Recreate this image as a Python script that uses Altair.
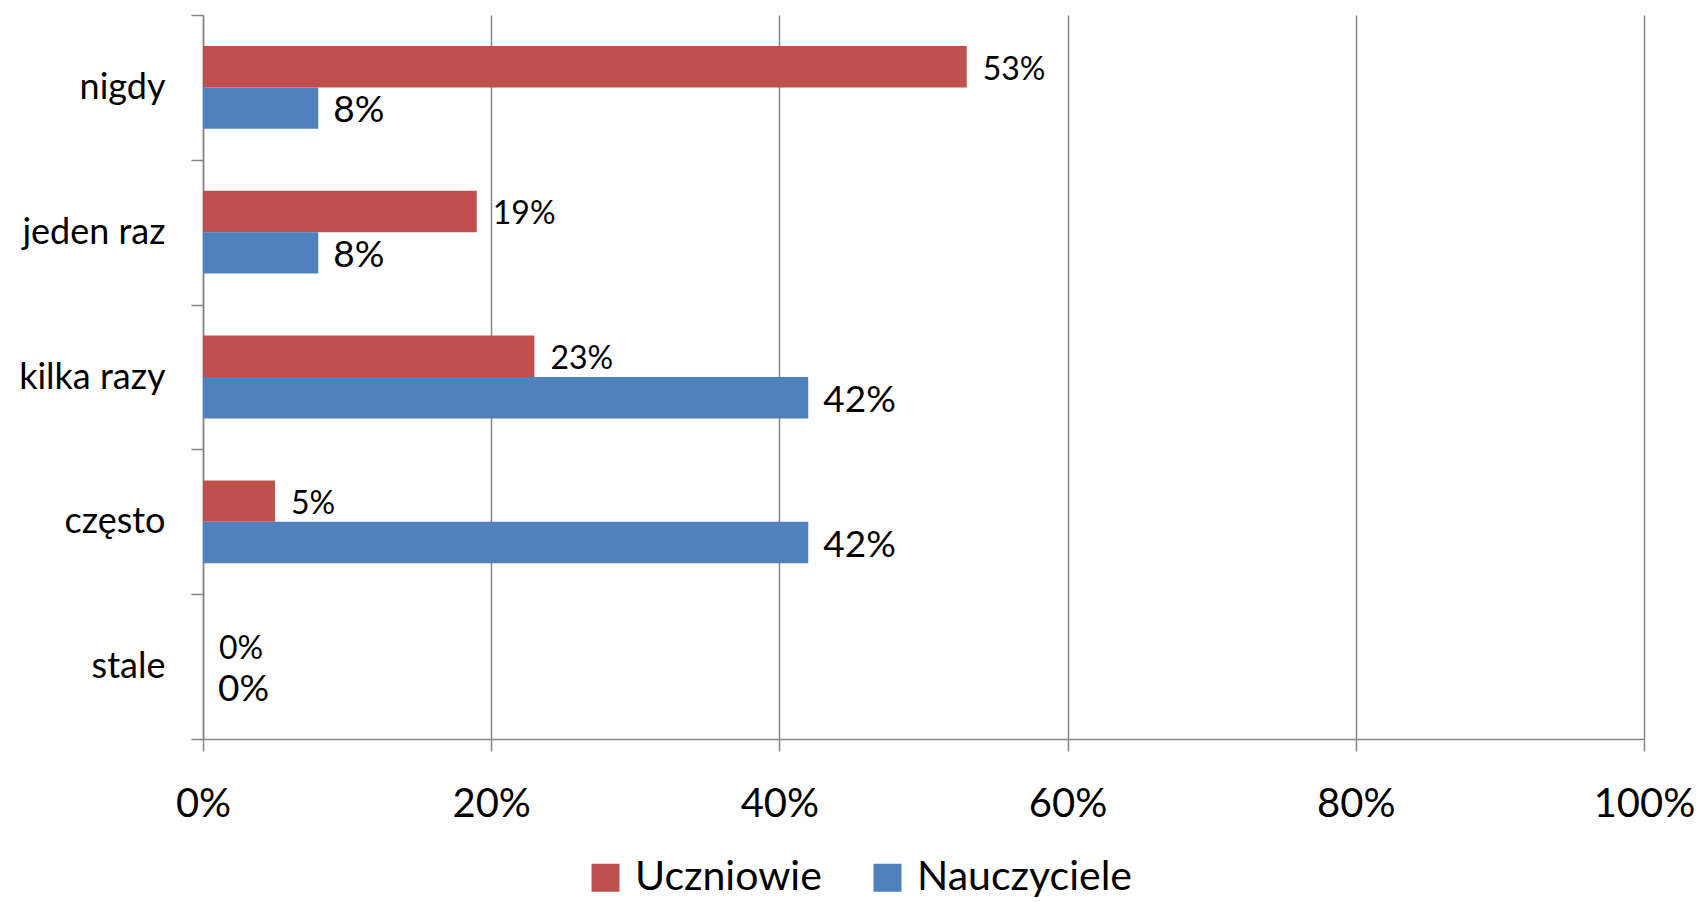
import altair as alt
import pandas as pd

categories = ["nigdy", "jeden raz", "kilka razy", "często", "stale"]
series_names = ["Uczniowie", "Nauczyciele"]
uczniowie = [53, 19, 23, 5, 0]
nauczyciele = [8, 8, 42, 42, 0]
colors = ["#C0504D", "#4F81BD"]
x_ticks = [0, 0.2, 0.4, 0.6, 0.8, 1.0]

rows = []
for c, u, n in zip(categories, uczniowie, nauczyciele):
    rows.append({"cat": c, "series": "Uczniowie", "val": u / 100, "label": f"{u}%"})
    rows.append({"cat": c, "series": "Nauczyciele", "val": n / 100, "label": f"{n}%"})
df = pd.DataFrame(rows)

FONT = "Lato"
GRID = "#868686"

y_enc = alt.Y(
    "cat:N",
    sort=categories,
    scale=alt.Scale(paddingInner=0, paddingOuter=0),
    axis=alt.Axis(
        title=None,
        tickBand="extent",
        labelFont=FONT,
        labelFontSize=36,
        labelColor="black",
        labelPadding=26,
        tickSize=12,
        tickColor=GRID,
        tickWidth=1.5,
        domainColor=GRID,
        domainWidth=1.5,
        grid=False,
        labelLimit=400,
    ),
)
yoff_enc = alt.YOffset(
    "series:N",
    sort=series_names,
    scale=alt.Scale(domain=series_names, paddingInner=0, paddingOuter=0.747),
)
x_enc = alt.X(
    "val:Q",
    scale=alt.Scale(domain=[0, 1], nice=False),
    axis=alt.Axis(
        title=None,
        values=x_ticks,
        format=".0%",
        labelFont=FONT,
        labelFontSize=40,
        labelColor="black",
        labelPadding=33,
        tickSize=12,
        tickColor=GRID,
        tickWidth=1.5,
        domainColor=GRID,
        domainWidth=1.5,
        grid=True,
        gridColor=GRID,
        gridWidth=1.5,
        labelFlush=False,
    ),
)

bars = alt.Chart(df).mark_bar(size=41.4).encode(
    x=x_enc,
    y=y_enc,
    yOffset=yoff_enc,
    color=alt.Color(
        "series:N",
        scale=alt.Scale(domain=series_names, range=colors),
        legend=alt.Legend(
            title=None,
            orient="none",
            direction="horizontal",
            legendX=382,
            legendY=842,
            symbolType="square",
            symbolSize=784,
            symbolStrokeWidth=0,
            symbolOpacity=1,
            labelFont=FONT,
            labelFontSize=41,
            labelColor="black",
            labelOffset=9,
            columnPadding=45,
            labelLimit=400,
            padding=0,
        ),
    ),
)

text_u = (
    alt.Chart(df)
    .transform_filter(alt.datum.series == "Uczniowie")
    .mark_text(align="left", baseline="middle", dx=16, dy=3, font=FONT, fontSize=32, color="black")
    .encode(x="val:Q", y=alt.Y("cat:N", sort=categories), yOffset=alt.YOffset("series:N", sort=series_names), text="label:N")
)
text_n = (
    alt.Chart(df)
    .transform_filter(alt.datum.series == "Nauczyciele")
    .mark_text(align="left", baseline="middle", dx=15, dy=3, font=FONT, fontSize=37, color="black")
    .encode(x="val:Q", y=alt.Y("cat:N", sort=categories), yOffset=alt.YOffset("series:N", sort=series_names), text="label:N")
)

chart = (
    alt.layer(bars, text_u, text_n)
    .properties(
        width=1441,
        height=724,
        autosize=alt.AutoSizeParams(type="none"),
        padding={"left": 195, "top": 7, "right": 50, "bottom": 163},
        background="white",
    )
    .configure_view(strokeWidth=0)
)

chart.save("out.html", embed_options={"renderer": "svg", "actions": False})
